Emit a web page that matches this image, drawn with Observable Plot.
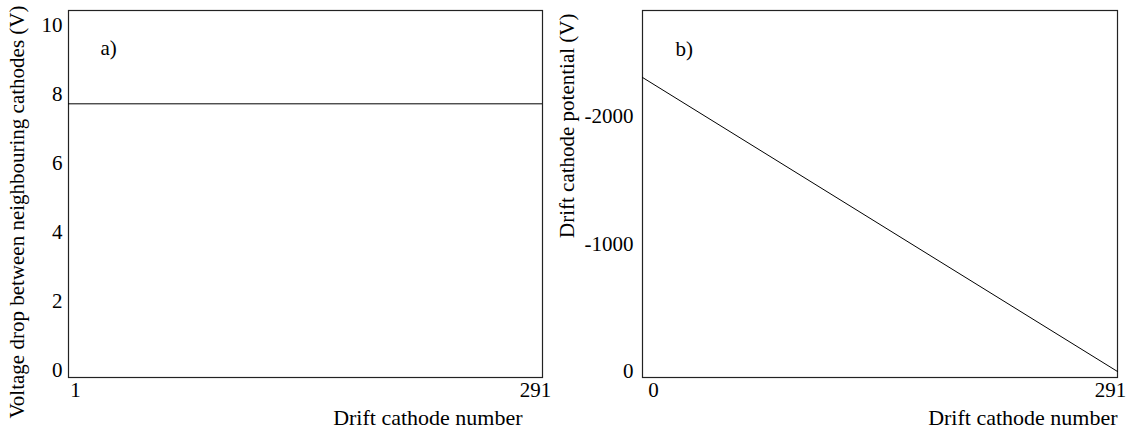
<!DOCTYPE html>
<html>
<head>
<meta charset="utf-8">
<script src="https://cdn.jsdelivr.net/npm/d3@7"></script>
<script src="https://cdn.jsdelivr.net/npm/@observablehq/plot@0.6"></script>
<style>
  html, body { margin: 0; padding: 0; background: #fff; }
  #wrap { display: flex; width: 1133px; height: 429px; }
  #wrap svg { overflow: visible; }
  #wrap svg, #wrap svg text, #wrap svg g {
    font-family: "Liberation Serif", "DejaVu Serif", serif !important;
    fill-opacity: 1;
  }
  #wrap svg { font-size: 21px !important; }
  #wrap svg text.xlab { font-size: 22px !important; }
</style>
</head>
<body>
<div id="wrap"></div>
<script>
// Panel a): voltage drop between neighbouring cathodes (constant)
const voltageDrop = 7.73;
const aTicksY = [0, 2, 4, 6, 8, 10];
const aTicksX = [1, 291];

// Panel b): drift cathode potential vs cathode number
const cathodeNumber = [0, 291];
const cathodePotential = [-2306, 0];
const bTicksY = [0, -1000, -2000];
const bTicksX = [0, 291];

const xLabel = "Drift cathode number";
const aYLabel = "Voltage drop between neighbouring cathodes (V)";
const bYLabel = "Drift cathode potential (V)";

const fs = 21;

const plotA = Plot.plot({
  width: 556, height: 429,
  marginLeft: 68, marginRight: 14, marginTop: 10, marginBottom: 52,
  style: {color: "#000", background: "#fff"},
  x: {domain: [1, 291]},
  y: {domain: [-0.203, 10.435]},
  marks: [
    Plot.frame({stroke: "#222", strokeWidth: 1.2}),
    Plot.ruleY([voltageDrop], {stroke: "#000", strokeWidth: 1}),
    Plot.axisY({ticks: aTicksY, tickSize: 0, tickPadding: 6, label: null, fontSize: fs}),
    Plot.axisX({ticks: [aTicksX[0]], tickSize: 0, tickPadding: 5, dx: 7, label: null, fontSize: fs}),
    Plot.axisX({ticks: [aTicksX[1]], tickSize: 0, tickPadding: 5, dx: -7, label: null, fontSize: fs}),
    Plot.text([aYLabel], {frameAnchor: "top-left", text: d => d, rotate: -90, textAnchor: "end",
      dx: -51, dy: -5, fontSize: fs, lineAnchor: "middle"}),
    Plot.text([xLabel], {frameAnchor: "bottom-right", text: d => d, textAnchor: "end",
      dx: -20, dy: 40, fontSize: 22, lineAnchor: "middle", className: "xlab"}),
    Plot.text(["a)"], {frameAnchor: "top-left", text: d => d, textAnchor: "start",
      dx: 32, dy: 38, fontSize: fs, lineAnchor: "middle"})
  ]
});

const bData = cathodeNumber.map((c, i) => ({c, v: cathodePotential[i]}));

const plotB = Plot.plot({
  width: 577, height: 429,
  marginLeft: 86, marginRight: 16, marginTop: 10, marginBottom: 52,
  style: {color: "#000", background: "#fff"},
  x: {domain: [0, 291]},
  y: {domain: [47, -2831]},
  marks: [
    Plot.frame({stroke: "#222", strokeWidth: 1.2}),
    Plot.line(bData, {x: "c", y: "v", stroke: "#000", strokeWidth: 1}),
    Plot.axisY({ticks: bTicksY, tickSize: 0, tickPadding: 9, tickFormat: d => String(d), label: null, fontSize: fs}),
    Plot.axisX({ticks: [bTicksX[0]], tickSize: 0, tickPadding: 5, dx: 11, label: null, fontSize: fs}),
    Plot.axisX({ticks: [bTicksX[1]], tickSize: 0, tickPadding: 5, dx: -7, label: null, fontSize: fs}),
    Plot.text([bYLabel], {frameAnchor: "top-left", text: d => d, rotate: -90, textAnchor: "end",
      dx: -75, dy: 3, fontSize: fs, lineAnchor: "middle"}),
    Plot.text([xLabel], {frameAnchor: "bottom-right", text: d => d, textAnchor: "end",
      dx: 0, dy: 40, fontSize: 22, lineAnchor: "middle", className: "xlab"}),
    Plot.text(["b)"], {frameAnchor: "top-left", text: d => d, textAnchor: "start",
      dx: 33, dy: 39, fontSize: fs, lineAnchor: "middle"})
  ]
});

document.getElementById("wrap").append(plotA, plotB);
</script>
</body>
</html>
